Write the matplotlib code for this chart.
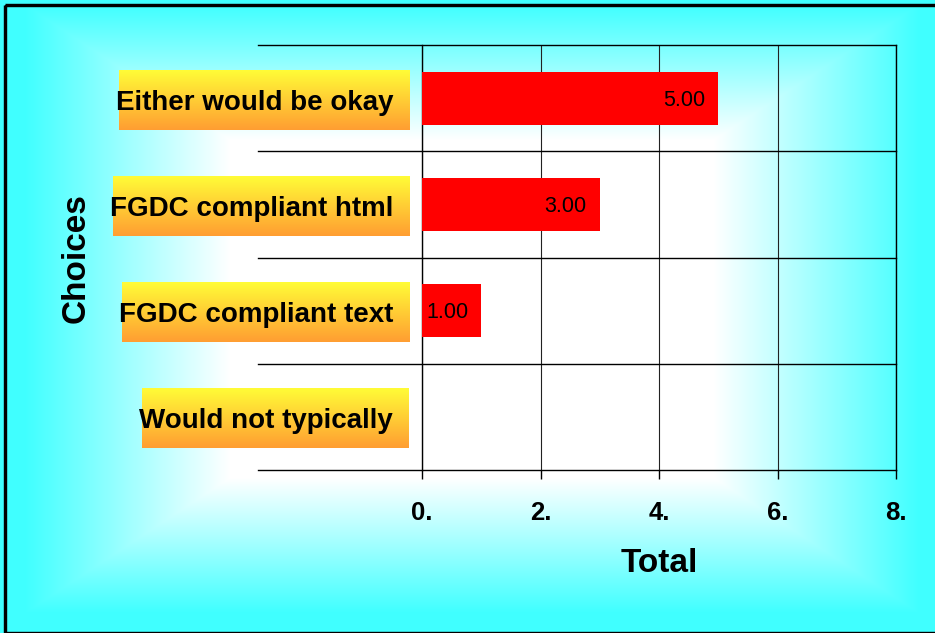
import numpy as np
import matplotlib
matplotlib.use('Agg')
import matplotlib.pyplot as plt
from matplotlib.patches import Rectangle
import matplotlib.transforms as mtransforms

categories = ["Either would be okay", "FGDC compliant html", "FGDC compliant text", "Would not typically"]
totals = [5.0, 3.0, 1.0, 0.0]
x_ticks = [0, 2, 4, 6, 8]
x_tick_labels = ["0.", "2.", "4.", "6.", "8."]
x_label = "Total"
y_label = "Choices"

plt.rcParams['font.family'] = ['Liberation Sans', 'DejaVu Sans']

W, H = 935, 633
fig = plt.figure(figsize=(W / 100, H / 100), dpi=100, facecolor='white')

# ---- background with rectangular "from center" gradient ----
bg = fig.add_axes([0, 0, 1, 1], zorder=-1)
bg.axis('off')
yy, xx = np.mgrid[0:H, 0:W] + 0.5
cx, cy = 472, 309
fh = np.clip((np.abs(xx - cx) - 242) / 205, 0, 1)
fv = np.clip((np.abs(yy - cy) - 169) / 135, 0, 1)
f = np.maximum(fh, fv)[..., None]
white = np.array([1.0, 1.0, 1.0])
cyan = np.array([64, 255, 255]) / 255
img = white * (1 - f) + cyan * f
bg.imshow(img, extent=(0, W, H, 0), aspect='auto', interpolation='bilinear')
bg.add_patch(Rectangle((5, 5), W + 10, 627.5, fill=False, edgecolor='black',
                       lw=3.4 * 0.72, clip_on=False))

# ---- main axes ----
ax = fig.add_axes([422 / W, 1 - 470 / H, (896 - 422) / W, (470 - 45) / H])
ax.set_facecolor('none')
ypos = np.arange(len(categories))
ax.barh(ypos, totals, height=0.5, color='#FF0000', zorder=3)
ax.set_xlim(0, 8)
ax.set_ylim(len(categories) - 0.5, -0.5)
ax.set_yticks([])
for s in ['top', 'bottom']:
    ax.spines[s].set_visible(False)
for s in ['left', 'right']:
    ax.spines[s].set_color('black')
    ax.spines[s].set_linewidth(1.0)
ax.set_xticks(x_ticks, labels=x_tick_labels, fontsize=18.5, fontweight='bold')
ax.tick_params(axis='x', length=9 * 0.72, width=1, color='black', pad=15.5)
ax.grid(axis='x', color='#222222', lw=0.8, zorder=1)
ax.set_axisbelow(True)

trans = mtransforms.blended_transform_factory(ax.transAxes, ax.transData)
bounds = list(ypos - 0.5) + [ypos[-1] + 0.5]
for b in bounds:
    ax.plot([-0.346, 1], [b, b], transform=trans, color='black', lw=1.0,
            clip_on=False, zorder=2)

for i, v in enumerate(totals):
    if v > 0:
        ax.annotate(f"{v:.2f}", (v, i), xytext=(-13, -2), textcoords='offset pixels',
                    ha='right', va='center', fontsize=15.5, zorder=4)

ax.set_xlabel(x_label, fontsize=24, fontweight='bold')
ax.xaxis.label.set_va('baseline')
ax.xaxis.set_label_coords(0.5, ((H - 572) - (H - 470)) / 425)

fig.text(76.5 / W, 1 - 258 / H, y_label, rotation=90, ha='center', va='center',
         fontsize=24, fontweight='bold')

# ---- category labels in gradient boxes ----
fig.canvas.draw()
renderer = fig.canvas.get_renderer()
grad_top = np.array([255, 252, 55]) / 255
grad_bot = np.array([255, 158, 50]) / 255
tt = np.linspace(0, 1, 60)[:, None, None]
box_img = grad_top * (1 - tt) + grad_bot * tt
for i, cat in enumerate(categories):
    yc = H - ax.transData.transform((0, i))[1] + 1.5
    t = fig.text(393 / W, 1 - (yc + 10) / H, cat, ha='right', va='baseline',
                 fontsize=20, fontweight='bold', zorder=5)
    ext = t.get_window_extent(renderer)
    x0 = ext.x0 + 3
    bg.imshow(box_img, extent=(x0, 409, yc + 30, yc - 30), aspect='auto',
              interpolation='bilinear', zorder=2)

bg.set_xlim(0, W)
bg.set_ylim(H, 0)

fig.savefig('out.png', dpi=100)
